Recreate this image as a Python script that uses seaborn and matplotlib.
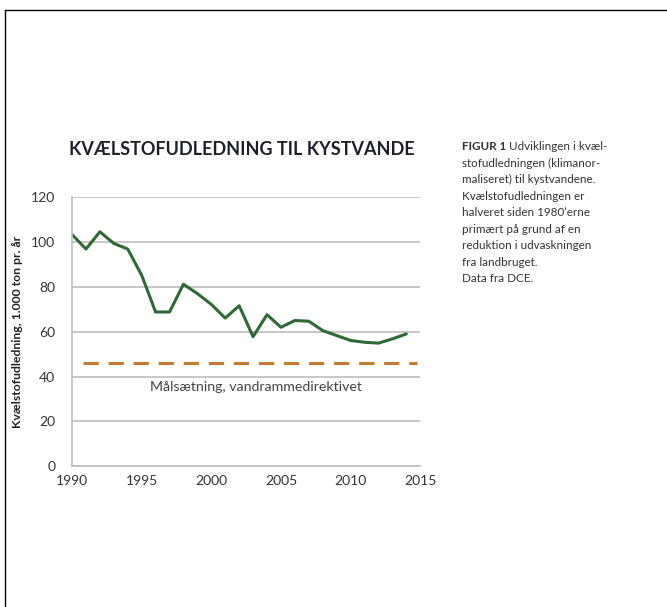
import matplotlib
matplotlib.use('Agg')
import matplotlib.pyplot as plt
import seaborn as sns
import pandas as pd
from matplotlib.lines import Line2D

# data
years = list(range(1990, 2015))
nitrogen = [103.4, 96.9, 104.6, 99.4, 96.9, 85.2, 68.8, 68.8, 81.2, 77.0,
            72.2, 66.1, 71.6, 57.8, 67.6, 62.0, 65.0, 64.7, 60.5, 58.3,
            56.1, 55.3, 54.9, 56.8, 59.0]
target_years = [1990.8, 2014.8]
target_values = [46, 46]

title = 'KVÆLSTOFUDLEDNING TIL KYSTVANDE'
ylabel = 'Kvælstofudledning, 1.000 ton pr. år'
target_label = 'Målsætning, vandrammedirektivet'
caption_lines = [
    'stofudledningen (klimanor-',
    'maliseret) til kystvandene.',
    'Kvælstofudledningen er',
    "halveret siden 1980’erne",
    'primært på grund af en',
    'reduktion i udvaskningen',
    'fra landbruget.',
    'Data fra DCE.',
]
xticks = [1990, 1995, 2000, 2005, 2010, 2015]
yticks = [0, 20, 40, 60, 80, 100, 120]

sns.set_theme(style='white')
plt.rcParams['font.family'] = ['Lato', 'DejaVu Sans']

df = pd.DataFrame({'year': years, 'value': nitrogen})
df_target = pd.DataFrame({'year': target_years, 'value': target_values})

fig = plt.figure(figsize=(6.67, 6.07), dpi=100)
ax = fig.add_axes([0.108, 0.232, 0.522, 0.443])

sns.lineplot(data=df, x='year', y='value', color='#2f6a35', linewidth=2.2, ax=ax)
sns.lineplot(data=df_target, x='year', y='value', color='#c77a2e', linewidth=2.2,
             linestyle=(0, (5, 3.2)), ax=ax)

ax.set_xlim(1990, 2015)
ax.set_ylim(0, 120)
ax.set_xticks(xticks)
ax.set_yticks(yticks)
ax.yaxis.grid(True, color='#bdbdbd', linewidth=1.2)
ax.set_axisbelow(True)
for side in ['top', 'right']:
    ax.spines[side].set_visible(False)
for side in ['left', 'bottom']:
    ax.spines[side].set_color('#bdbdbd')
    ax.spines[side].set_linewidth(1.2)
ax.tick_params(axis='both', labelsize=10, colors='#bdbdbd', labelcolor='#333333',
               length=4, width=1)
ax.tick_params(axis='x', direction='inout', pad=4)
ax.tick_params(axis='y', direction='out', pad=8)
ax.set_xlabel('')
ax.set_ylabel(ylabel, fontsize=8.8, fontweight='bold', color='#222222', labelpad=6)

ax.text(2003.2, 35.3, target_label, ha='center', va='center', fontsize=10.2, color='#444444')

fig.text(0.362, 0.753, title, ha='center', va='center', fontsize=13,
         fontweight='bold', color='#1f1f2a')

# caption on the right
cx = 0.693
cy = 0.758
step = 0.0272
fs = 8.4
fig.text(cx, cy, 'FIGUR 1', ha='left', va='center', fontsize=fs,
         fontweight='bold', color='#333333')
fig.text(cx + 0.07, cy, 'Udviklingen i kvæl-', ha='left', va='center',
         fontsize=fs, color='#333333')
for i, line in enumerate(caption_lines):
    fig.text(cx, cy - (i + 1) * step, line, ha='left', va='center',
             fontsize=fs, color='#333333')

# page frame lines (top and left)
fig.add_artist(Line2D([0.0075, 1.0], [0.9835, 0.9835], transform=fig.transFigure,
                      color='black', linewidth=1))
fig.add_artist(Line2D([0.0075, 0.0075], [0.0, 0.9835], transform=fig.transFigure,
                      color='black', linewidth=1))

fig.savefig('out.png', dpi=100, facecolor='white')
plt.close(fig)
